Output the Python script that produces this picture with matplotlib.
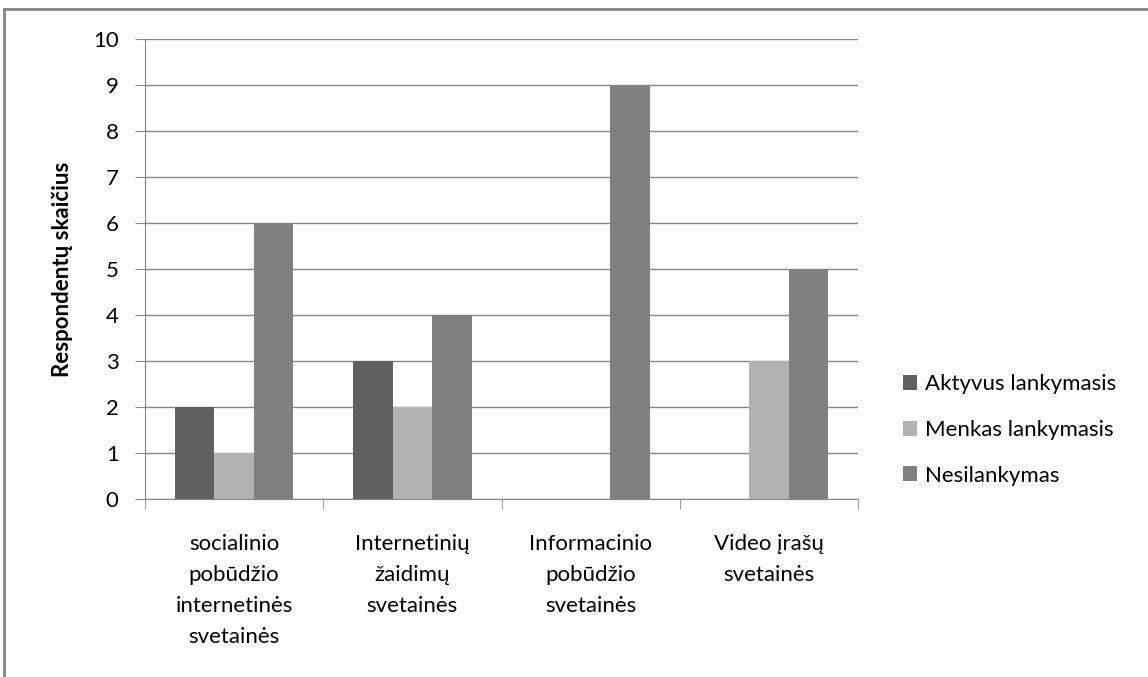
import numpy as np
import matplotlib
matplotlib.use("Agg")
from matplotlib import pyplot as plt
from matplotlib.lines import Line2D

categories = ["socialinio\npobūdžio\ninternetinės\nsvetainės",
              "Internetinių\nžaidimų\nsvetainės",
              "Informacinio\npobūdžio\nsvetainės",
              "Video įrašų\nsvetainės"]
series_names = ["Aktyvus lankymasis", "Menkas lankymasis", "Nesilankymas"]
aktyvus = [2, 3, 0, 0]
menkas = [1, 2, 0, 3]
nesilankymas = [6, 4, 9, 5]
colors = ["#606060", "#b2b2b2", "#808080"]

plt.rcParams['font.family'] = ['Lato', 'DejaVu Sans']

fig = plt.figure(figsize=(11.48, 6.77), dpi=100)
ax = fig.add_axes([145 / 1148, 1 - 499 / 677, (858 - 145) / 1148, (499 - 39) / 677])

x = np.arange(len(categories))
w = 0.222
for i, (vals, name) in enumerate(zip([aktyvus, menkas, nesilankymas], series_names)):
    ax.bar(x + (i - 1) * w, vals, width=w, color=colors[i], label=name, zorder=3)

ax.set_xlim(-0.5, len(categories) - 0.5)
ax.set_ylim(0, 10)
ax.set_yticks(range(0, 11))
ax.yaxis.grid(True, color="#868686", linewidth=1.0, zorder=0)
ax.tick_params(axis="y", length=7, color="#868686", labelsize=16, pad=12)
ax.set_xticks(x)
ax.set_xticklabels(categories, fontsize=16, linespacing=1.7)
ax.tick_params(axis="x", length=0, pad=25)
# category boundary ticks
ax.set_xticks(np.arange(-0.5, len(categories)), minor=True)
ax.tick_params(axis="x", which="minor", length=7, color="#868686")
for s in ["top", "right"]:
    ax.spines[s].set_visible(False)
for s in ["left", "bottom"]:
    ax.spines[s].set_color("#868686")
ax.set_ylabel("Respondentų skaičius", fontsize=16, fontweight="bold", labelpad=14)

leg = ax.legend(loc="center left", bbox_to_anchor=(1.035, 0.15), frameon=False,
                fontsize=16, handlelength=0.65, handleheight=0.65, handletextpad=0.35,
                labelspacing=1.15)

# outer chart border (left and top visible)
fig.add_artist(Line2D([4 / 1148, 4 / 1148], [0, 1 - 9 / 677], color="#868686", lw=2, transform=fig.transFigure))
fig.add_artist(Line2D([4 / 1148, 1], [1 - 9 / 677, 1 - 9 / 677], color="#868686", lw=2, transform=fig.transFigure))

fig.savefig("out.png", dpi=100)
